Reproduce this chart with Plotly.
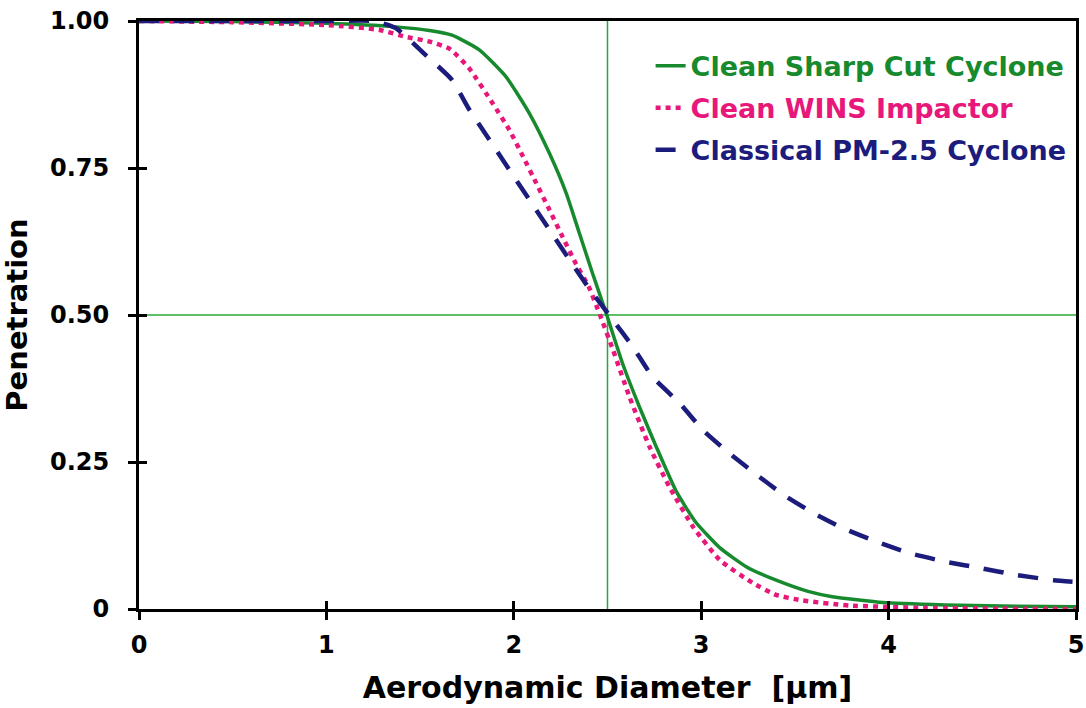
import plotly.graph_objects as go

# Data
sharp_x = [0, 0.5, 1.0, 1.37, 1.55, 1.67, 1.816, 1.959, 2.083, 2.19, 2.28, 2.35, 2.42, 2.493, 2.58, 2.67,
           2.76, 2.867, 2.97, 3.10, 3.24, 3.40, 3.57, 3.70, 3.97, 4.3, 4.6, 5.0]
sharp_y = [1.0, 0.999, 0.996, 0.990, 0.984, 0.976, 0.951, 0.905, 0.843, 0.775, 0.707, 0.639, 0.571, 0.503,
           0.418, 0.344, 0.276, 0.200, 0.148, 0.104, 0.072, 0.049, 0.03, 0.021, 0.011, 0.007, 0.005, 0.004]

wins_x = [0, 0.5, 1.01, 1.28, 1.425, 1.55, 1.656, 1.763, 1.887, 1.976, 2.05, 2.12, 2.19, 2.26, 2.33, 2.40,
          2.46, 2.53, 2.617, 2.724, 2.83, 2.956, 3.10, 3.276, 3.40, 3.53, 3.79, 4.2, 5.0]
wins_y = [1.0, 0.998, 0.993, 0.985, 0.973, 0.965, 0.953, 0.919, 0.86, 0.815, 0.769, 0.724, 0.679, 0.633,
          0.588, 0.548, 0.50, 0.44, 0.361, 0.276, 0.208, 0.140, 0.083, 0.044, 0.024, 0.015, 0.006, 0.002, 0.0]

classic_x = [0, 0.5, 1.0, 1.25, 1.37, 1.53, 1.67, 1.763, 1.87, 1.976, 2.083, 2.19, 2.297, 2.40, 2.53, 2.635,
             2.74, 2.885, 3.01, 3.15, 3.31, 3.44, 3.60, 3.76, 3.94, 4.11, 4.31, 4.50, 4.68, 4.88, 5.0]
classic_y = [1.0, 1.0, 1.0, 1.0, 0.988, 0.942, 0.90, 0.849, 0.798, 0.747, 0.696, 0.645, 0.594, 0.546, 0.491,
             0.446, 0.395, 0.35, 0.304, 0.265, 0.225, 0.194, 0.163, 0.137, 0.114, 0.095, 0.080, 0.069,
             0.058, 0.049, 0.046]

series_names = ["Clean Sharp Cut Cyclone", "Clean WINS Impactor", "Classical PM-2.5 Cyclone"]
cut_diameter = 2.5
cut_penetration = 0.5

x_ticks = [0, 1, 2, 3, 4, 5]
y_ticks = [0, 0.25, 0.5, 0.75, 1.0]
y_tick_labels = ["0", "0.25", "0.50", "0.75", "1.00"]

GREEN = "#178a2e"
MAGENTA = "#e8177a"
NAVY = "#1c1c7c"
FONT = "DejaVu Sans"

fig = go.Figure()
fig.add_trace(go.Scatter(x=sharp_x, y=sharp_y, mode="lines", line=dict(color=GREEN, width=3.5, shape="spline", smoothing=0.5),
                         name=f"<b><span style='color:{GREEN}'>{series_names[0]}</span></b>", legendgroup="a"))
fig.add_trace(go.Scatter(x=wins_x, y=wins_y, mode="lines", line=dict(color=MAGENTA, width=4.5, dash="5px,5px", shape="spline", smoothing=0.5),
                         name=f"<b><span style='color:{MAGENTA}'>{series_names[1]}</span></b>", legendgroup="b"))
fig.add_trace(go.Scatter(x=classic_x, y=classic_y, mode="lines", line=dict(color=NAVY, width=4.5, dash="20px,15px", shape="spline", smoothing=0.5),
                         name=f"<b><span style='color:{NAVY}'>{series_names[2]}</span></b>", legendgroup="c"))

fig.add_vline(x=cut_diameter, line=dict(color="#2aa836", width=1.5), layer="below")
fig.add_hline(y=cut_penetration, line=dict(color="#2aa836", width=1.5), layer="below")

axis_common = dict(showgrid=False, zeroline=False, linecolor="black", linewidth=3, mirror=True,
                   ticks="outside", ticklen=8, tickwidth=2.5, tickcolor="black", automargin=False,
                   tickfont=dict(family=FONT, size=24, color="black", weight="bold"))

fig.update_layout(
    width=1086, height=708,
    margin=dict(l=139, r=10, t=21, b=99),
    paper_bgcolor="white", plot_bgcolor="white",
    font=dict(family=FONT, color="black"),
    xaxis=dict(range=[0, 5], tickvals=x_ticks, ticktext=[str(v) for v in x_ticks], ticklabelstandoff=4,
               title=dict(text="<b>Aerodynamic Diameter  [µm]</b>", font=dict(family=FONT, size=30), standoff=20),
               **axis_common),
    yaxis=dict(range=[0, 1], tickvals=y_ticks, ticktext=y_tick_labels, ticklabelstandoff=14,
               title=dict(text="<b>Penetration</b>", font=dict(family=FONT, size=29), standoff=14),
               **axis_common),
    xaxis2=dict(overlaying="x", anchor="y2", range=[0, 5], tickvals=x_ticks, ticks="inside", ticklen=8, tickwidth=2.5,
                tickcolor="black", showticklabels=False, showgrid=False, zeroline=False, showline=False, side="bottom"),
    yaxis2=dict(overlaying="y", anchor="x2", range=[0, 1], tickvals=y_ticks, ticks="inside", ticklen=8, tickwidth=2.5,
                tickcolor="black", showticklabels=False, showgrid=False, zeroline=False, showline=False, side="left"),
    legend=dict(x=0.546, y=0.965, xanchor="left", yanchor="top", bgcolor="rgba(0,0,0,0)",
                font=dict(family=FONT, size=27), tracegroupgap=4, traceorder="grouped"),
)
# transparent trace to activate the overlay tick axes
fig.add_trace(go.Scatter(x=[0, 5], y=[0, 1], mode="markers", marker=dict(opacity=0), xaxis="x2", yaxis="y2",
                         showlegend=False, hoverinfo="skip"))

fig.write_html("out.html")
